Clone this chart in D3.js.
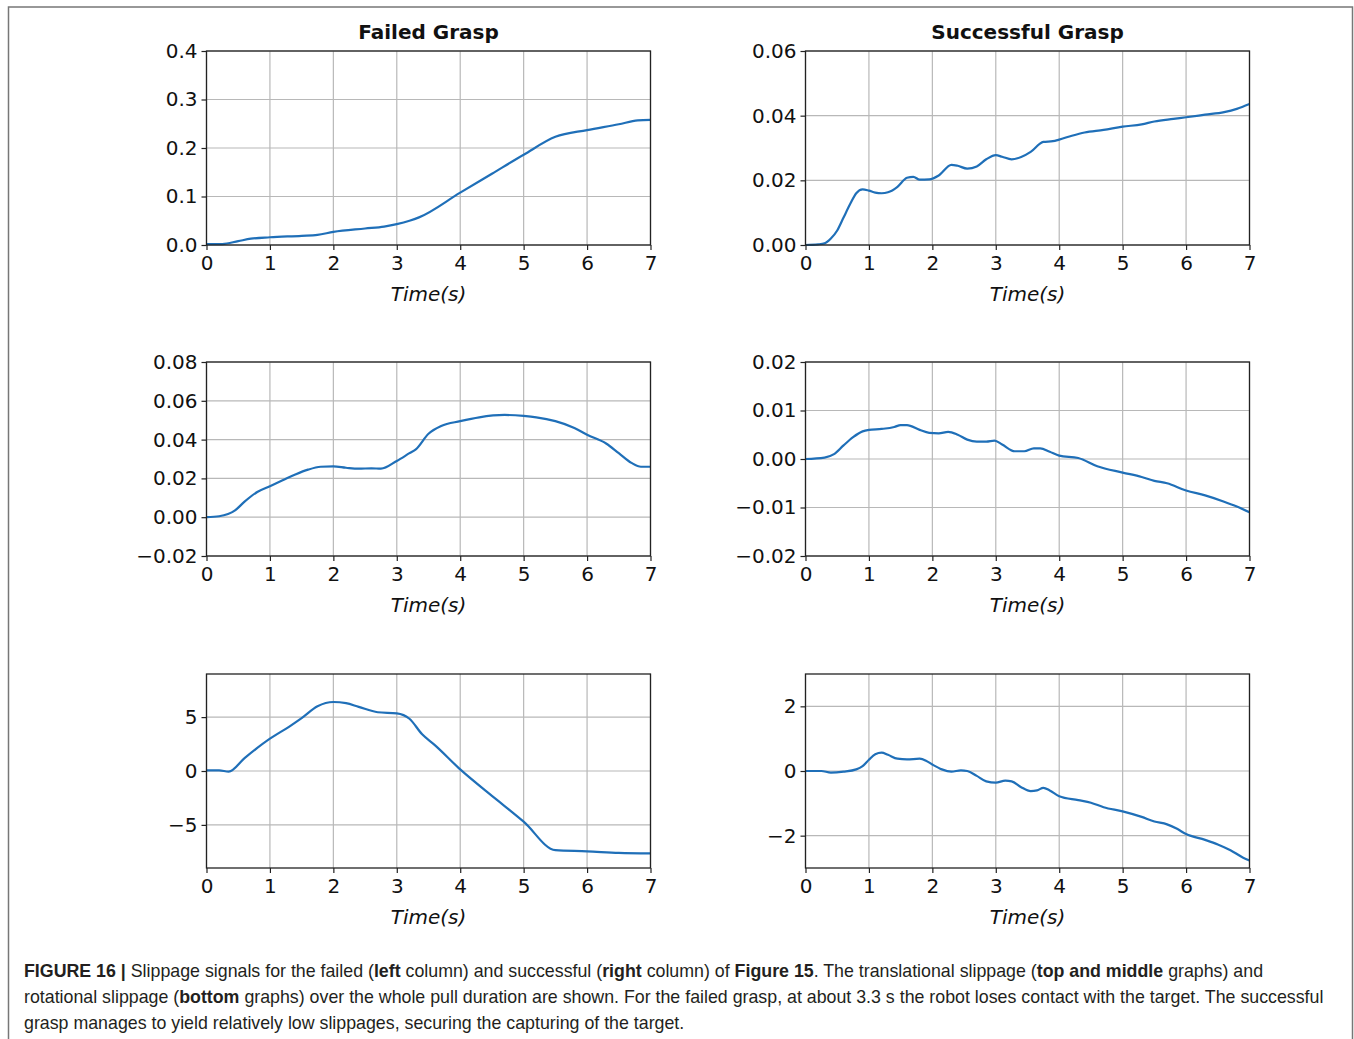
<!DOCTYPE html>
<html>
<head>
<meta charset="utf-8">
<script src="https://cdn.jsdelivr.net/npm/d3@7"></script>
<style>
  html, body { margin: 0; padding: 0; background: #fff; }
  svg { display: block; }
</style>
</head>
<body>
<div id="chart"></div>
<script>
// time stamps (s) and readings, one pair of arrays per panel
const tFailedDx = [0,0.25,0.5,0.7,1,1.5,1.75,2,2.5,2.8,3,3.2,3.35,4,4.5,5,5.5,6,6.5,6.8,7];
const failedDx  = [0.002,0.002,0.008,0.013,0.016,0.019,0.021,0.027,0.034,0.038,0.043,0.05,0.057,0.108,0.147,0.186,0.223,0.237,0.249,0.257,0.258];

const tSuccessDx = [0,0.2,0.3,0.4,0.5,0.6,0.7,0.8,0.9,1.0,1.1,1.2,1.3,1.45,1.6,1.7,1.8,1.95,2.1,2.3,2.4,2.55,2.7,2.85,3.0,3.1,3.25,3.4,3.55,3.75,3.9,4.0,4.2,4.4,4.7,5.0,5.3,5.5,5.8,6.0,6.3,6.6,6.8,7.0];
const successDx  = [0,0.0002,0.0005,0.002,0.0045,0.0085,0.0125,0.016,0.0172,0.0168,0.0162,0.016,0.0163,0.018,0.0208,0.0211,0.0202,0.0203,0.0215,0.0248,0.0245,0.0236,0.0243,0.0265,0.0278,0.0273,0.0265,0.0272,0.0288,0.0319,0.0321,0.0326,0.0338,0.0348,0.0356,0.0366,0.0373,0.0382,0.039,0.0395,0.0403,0.0411,0.0421,0.0436];

const tFailedDy = [0,0.2,0.45,0.6,0.8,1.0,1.2,1.4,1.6,1.8,2.0,2.2,2.4,2.6,2.75,3.0,3.2,3.3,3.5,3.7,4.0,4.3,4.7,5.0,5.2,5.5,5.8,6.0,6.3,6.5,6.7,6.85,7.0];
const failedDy  = [0,0.0005,0.0035,0.008,0.013,0.016,0.019,0.022,0.0245,0.026,0.0262,0.0255,0.025,0.0252,0.025,0.029,0.033,0.035,0.043,0.047,0.0495,0.0515,0.0527,0.0522,0.0515,0.0495,0.046,0.0425,0.038,0.033,0.028,0.026,0.026];

const tSuccessDy = [0,0.3,0.45,0.6,0.75,0.9,1.0,1.2,1.4,1.5,1.6,1.8,1.95,2.1,2.25,2.4,2.55,2.7,2.85,2.98,3.1,3.3,3.45,3.6,3.7,3.85,4.0,4.3,4.6,5.0,5.3,5.5,5.7,6.0,6.3,6.6,6.8,7.0];
const successDy  = [0,0.0003,0.001,0.0028,0.0045,0.0057,0.006,0.0062,0.0066,0.007,0.007,0.006,0.0054,0.0053,0.0056,0.005,0.004,0.0036,0.0036,0.0038,0.003,0.0016,0.0016,0.0022,0.0022,0.0015,0.0007,0.0002,-0.0015,-0.0028,-0.0037,-0.0045,-0.005,-0.0065,-0.0075,-0.0088,-0.0098,-0.011];

const tFailedDth = [0,0.2,0.35,0.6,1.0,1.3,1.5,1.75,2.0,2.2,2.4,2.7,3.0,3.2,3.4,3.6,4.0,4.5,4.7,5.0,5.5,6.0,6.5,7.0];
const failedDth  = [0.05,0.05,-0.05,1.2,3.0,4.1,4.9,6.0,6.4,6.3,5.95,5.45,5.35,4.85,3.4,2.4,0.15,-2.3,-3.25,-4.7,-7.35,-7.45,-7.6,-7.65];

const tSuccessDth = [0,0.25,0.4,0.6,0.8,0.9,1.0,1.1,1.2,1.3,1.45,1.6,1.8,1.9,2.0,2.15,2.3,2.45,2.55,2.7,2.85,3.0,3.15,3.25,3.4,3.55,3.65,3.75,3.85,4.0,4.3,4.5,4.7,5.0,5.3,5.5,5.7,5.85,6.0,6.3,6.5,6.7,6.9,7.0];
const successDth  = [0,0,-0.05,-0.02,0.05,0.15,0.35,0.52,0.57,0.5,0.38,0.36,0.38,0.32,0.2,0.05,-0.02,0.02,0,-0.15,-0.32,-0.36,-0.3,-0.32,-0.5,-0.62,-0.6,-0.52,-0.6,-0.78,-0.9,-0.98,-1.12,-1.25,-1.42,-1.56,-1.65,-1.78,-1.95,-2.13,-2.27,-2.45,-2.68,-2.77];

// axis ticks
const timeTicks = [0,1,2,3,4,5,6,7];
const columnTitles = ["Failed Grasp", "Successful Grasp"];

const W = 1354, H = 1039;
const svg = d3.select("#chart").append("svg")
  .attr("width", W).attr("height", H);

// outer figure border (bottom edge runs off the page)
svg.append("rect")
  .attr("x", 8.5).attr("y", 7)
  .attr("width", 1344).attr("height", 1100)
  .attr("fill", "none").attr("stroke", "#777").attr("stroke-width", 1.5);

const cols = [206.5, 805.5];
const plotW = 444;
const rows = [51, 362, 674];
const plotH = 194;

const fmt1 = d => d3.format(".1f")(d).replace("-", "\u2212");
const fmt2 = d => d3.format(".2f")(d).replace("-", "\u2212");
const fmt0 = d => d3.format("d")(d).replace("-", "\u2212");

const panels = [
  { col: 0, row: 0, t: tFailedDx,  v: failedDx,  dom: [0, 0.4],      ticks: [0,0.1,0.2,0.3,0.4],           fmt: fmt1, lab: "dx (m)" },
  { col: 1, row: 0, t: tSuccessDx, v: successDx, dom: [0, 0.06],     ticks: [0,0.02,0.04,0.06],            fmt: fmt2, lab: "dx (m)" },
  { col: 0, row: 1, t: tFailedDy,  v: failedDy,  dom: [-0.02, 0.08], ticks: [-0.02,0,0.02,0.04,0.06,0.08], fmt: fmt2, lab: "dy (m)" },
  { col: 1, row: 1, t: tSuccessDy, v: successDy, dom: [-0.02, 0.02], ticks: [-0.02,-0.01,0,0.01,0.02],    fmt: fmt2, lab: "dy (m)" },
  { col: 0, row: 2, t: tFailedDth, v: failedDth, dom: [-9, 9],       ticks: [-5,0,5],                      fmt: fmt0, lab: "d\u03b8 (deg)" },
  { col: 1, row: 2, t: tSuccessDth,v: successDth,dom: [-3, 3],       ticks: [-2,0,2],                      fmt: fmt0, lab: "d\u03b8 (deg)" }
];

const font = "'DejaVu Sans', sans-serif";

panels.forEach(p => {
  const x0 = cols[p.col], y0 = rows[p.row];
  const x = d3.scaleLinear().domain([0, 7]).range([x0, x0 + plotW]);
  const y = d3.scaleLinear().domain(p.dom).range([y0 + plotH, y0]);
  const g = svg.append("g");

  // grid
  g.append("g").selectAll("line").data(timeTicks).join("line")
    .attr("x1", d => x(d)).attr("x2", d => x(d))
    .attr("y1", y0).attr("y2", y0 + plotH)
    .attr("stroke", "#b8b8b8").attr("stroke-width", 1.2);
  g.append("g").selectAll("line").data(p.ticks).join("line")
    .attr("x1", x0).attr("x2", x0 + plotW)
    .attr("y1", d => y(d)).attr("y2", d => y(d))
    .attr("stroke", "#b8b8b8").attr("stroke-width", 1.2);

  // data line
  const pts = p.t.map((t, i) => [t, p.v[i]]);
  g.append("path")
    .datum(pts)
    .attr("fill", "none")
    .attr("stroke", "#1f6fb8")
    .attr("stroke-width", 2.2)
    .attr("stroke-linejoin", "round")
    .attr("d", d3.line().x(d => x(d[0])).y(d => y(d[1])).curve(d3.curveMonotoneX));

  // frame
  g.append("rect")
    .attr("x", x0).attr("y", y0).attr("width", plotW).attr("height", plotH)
    .attr("fill", "none").attr("stroke", "#222").attr("stroke-width", 1.3);

  // axes
  const xa = g.append("g")
    .attr("transform", `translate(0,${y0 + plotH})`)
    .call(d3.axisBottom(x).tickValues(timeTicks).tickFormat(d3.format("d")).tickSize(5).tickPadding(6));
  const ya = g.append("g")
    .attr("transform", `translate(${x0},0)`)
    .call(d3.axisLeft(y).tickValues(p.ticks).tickFormat(p.fmt).tickSize(5).tickPadding(4));
  [xa, ya].forEach(a => {
    a.select(".domain").remove();
    a.selectAll("line").attr("stroke", "#222").attr("stroke-width", 1.2);
    a.selectAll("text").attr("font-family", font).attr("font-size", 20).attr("fill", "#111");
  });

  // x label
  g.append("text")
    .attr("x", x0 + plotW / 2).attr("y", y0 + plotH + 56)
    .attr("text-anchor", "middle")
    .attr("font-family", font).attr("font-size", 20).attr("font-style", "italic").attr("fill", "#111")
    .text("Time(s)");

  // y label placed left of the tick labels
  const bb = ya.node().getBBox();
  const lx = bb.x - 12, ly = y0 + plotH / 2;
  g.append("g")
    .attr("transform", `translate(${lx},${ly}) rotate(-90)`)
    .append("text")
      .attr("text-anchor", "middle")
      .attr("font-family", font).attr("font-size", 20).attr("font-style", "italic").attr("fill", "#111")
      .text(p.lab);

  // column title
  if (p.row === 0) {
    g.append("text")
      .attr("x", x0 + plotW / 2).attr("y", y0 - 12)
      .attr("text-anchor", "middle")
      .attr("font-family", font).attr("font-size", 20).attr("font-weight", "bold").attr("fill", "#111")
      .text(columnTitles[p.col]);
  }
});

// caption
const capLines = [
  [["FIGURE 16 | ", true], ["Slippage signals for the failed (", false], ["left", true], [" column) and successful (", false], ["right", true], [" column) of ", false], ["Figure 15", true], [". The translational slippage (", false], ["top and middle", true], [" graphs) and", false]],
  [["rotational slippage (", false], ["bottom", true], [" graphs) over the whole pull duration are shown. For the failed grasp, at about 3.3 s the robot loses contact with the target. The successful", false]],
  [["grasp manages to yield relatively low slippages, securing the capturing of the target.", false]]
];
const cap = svg.append("g")
  .attr("font-family", "'Liberation Sans', Arial, sans-serif")
  .attr("font-size", 17.8).attr("fill", "#231f20");
capLines.forEach((line, i) => {
  const t = cap.append("text").attr("x", 24).attr("y", 977 + i * 26);
  line.forEach(([s, b]) => t.append("tspan").attr("font-weight", b ? "bold" : "normal").text(s));
});
</script>
</body>
</html>
